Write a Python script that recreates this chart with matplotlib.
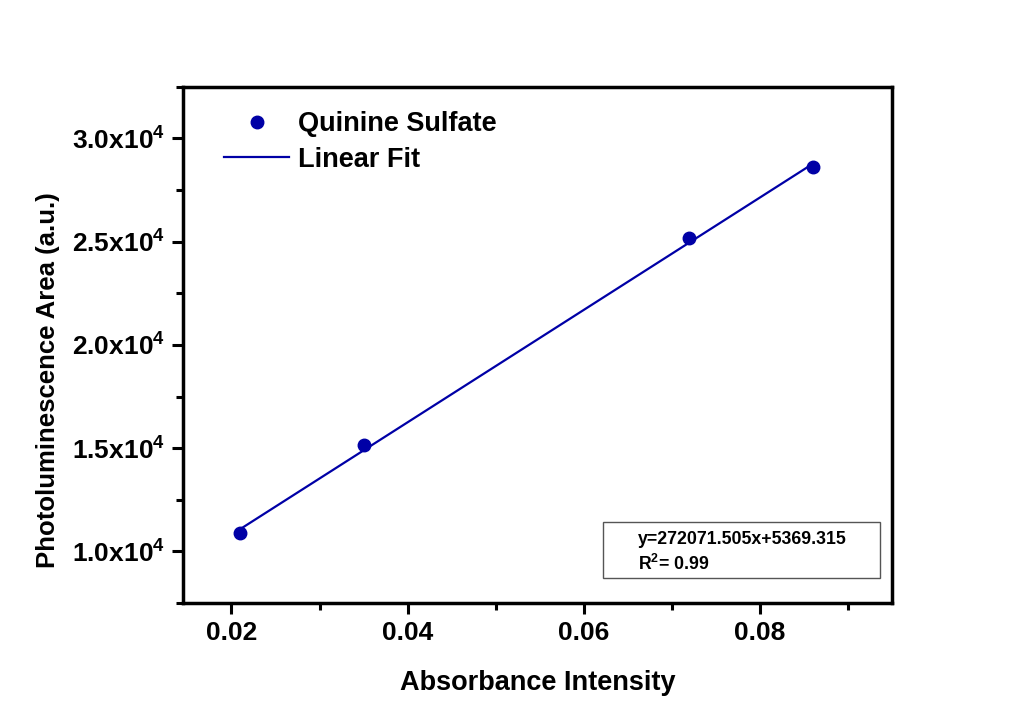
import numpy as np
import matplotlib
matplotlib.use('Agg')
import matplotlib.pyplot as plt
from matplotlib.ticker import MultipleLocator, FuncFormatter
from matplotlib.patches import Rectangle

#Absorbance vs integrated PL area for the quinine sulfate standard
absorbance = [0.021, 0.035, 0.072, 0.086]
pl_area = [10900, 15150, 25200, 28600]
#Linear fit coefficients
slope = 272071.505
intercept = 5369.315
r_squared = 0.99

plt.rcParams['font.family'] = ['Liberation Sans', 'DejaVu Sans']
plt.rcParams['font.weight'] = 'bold'
plt.rcParams['mathtext.fontset'] = 'custom'
plt.rcParams['mathtext.rm'] = 'Liberation Sans:bold'
plt.rcParams['mathtext.bf'] = 'Liberation Sans:bold'
plt.rcParams['mathtext.it'] = 'Liberation Sans:bold'

blue = '#0000a6'

fig = plt.figure(figsize=(10.17, 7.15), dpi=100)
ax = fig.add_axes([0.18, 0.1566, 0.697, 0.722])

ax.plot(absorbance, pl_area, 'o', color=blue, markersize=9, label='Quinine Sulfate')
#Fit line over the measured absorbance range
x_fit = np.array([min(absorbance), max(absorbance)])
ax.plot(x_fit, slope * x_fit + intercept, '-', color=blue, linewidth=1.6, label='Linear Fit')

ax.set_xlim(0.0145, 0.095)
ax.set_ylim(7500, 32500)

ax.xaxis.set_major_locator(MultipleLocator(0.02))
ax.xaxis.set_minor_locator(MultipleLocator(0.01))
ax.yaxis.set_major_locator(MultipleLocator(5000))
ax.yaxis.set_minor_locator(MultipleLocator(2500))
ax.xaxis.set_major_formatter(FuncFormatter(lambda v, p: '%.2f' % v))
ax.yaxis.set_major_formatter(FuncFormatter(lambda v, p: '%.1fx10$^{4}$' % (v / 1e4)))

for side in ['top', 'right', 'left', 'bottom']:
    ax.spines[side].set_linewidth(2.5)
ax.tick_params(which='major', direction='out', length=8, width=2.2, labelsize=19, pad=5)
ax.tick_params(which='minor', direction='out', length=5, width=2.2)
ax.tick_params(top=False, right=False, which='both')

ax.set_xlabel('Absorbance Intensity', fontsize=19.5, fontweight='bold', labelpad=18)
ax.set_ylabel('Photoluminescence Area (a.u.)', fontsize=18.5, fontweight='bold')
ax.yaxis.set_label_coords(-0.174, 0.432)

leg = ax.legend(loc='upper left', bbox_to_anchor=(0.024, 1.0), frameon=False,
                fontsize=19.5, handlelength=2.4, handletextpad=0.3, labelspacing=0.35)

#Fit equation box
ax.add_patch(Rectangle((0.592, 0.048), 0.391, 0.109, transform=ax.transAxes,
                       facecolor='white', edgecolor='#555555', linewidth=1))
ax.text(0.642, 0.124, 'y=272071.505x+5369.315', transform=ax.transAxes,
        fontsize=12.8, fontweight='bold', va='center', ha='left')
ax.text(0.642, 0.075, 'R$^{2}$= %.2f' % r_squared, transform=ax.transAxes,
        fontsize=12.8, fontweight='bold', va='center', ha='left')

fig.savefig('out.png', dpi=100)
